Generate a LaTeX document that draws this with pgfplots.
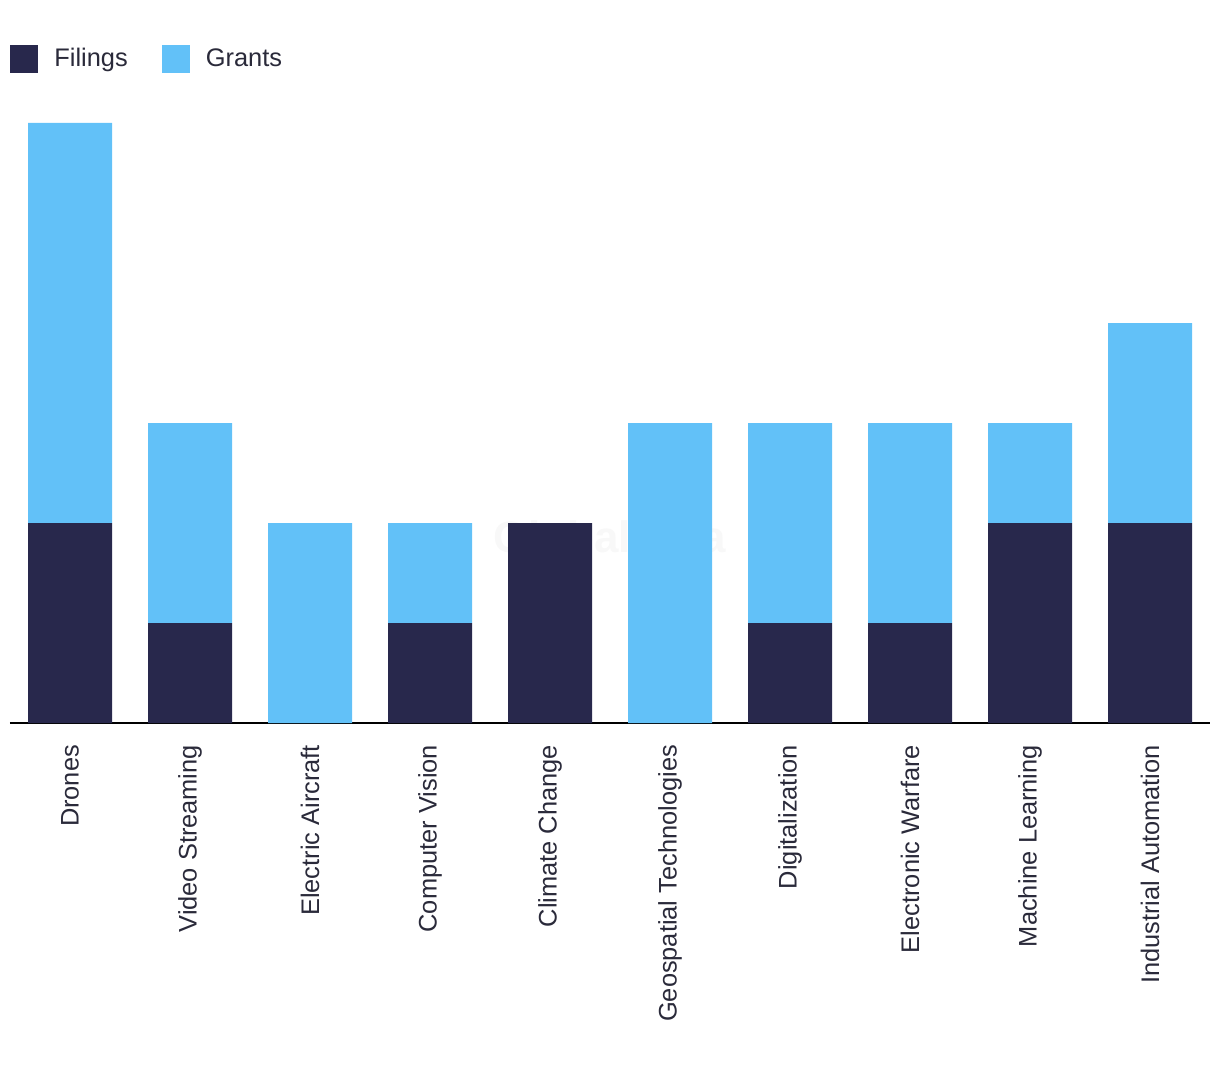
\documentclass[border=0pt]{standalone}
\usepackage{pgfplots}
\pgfplotsset{compat=1.18}
\usepackage{fontspec}
\setmainfont{Liberation Sans}
\definecolor{navy}{HTML}{28284C}
\definecolor{sky}{HTML}{62C1F8}
\definecolor{txt}{HTML}{2A2A3A}
\begin{document}
\begin{tikzpicture}
\begin{axis}[
 at={(0,0)}, anchor=south west,
 scale only axis, width=600pt, height=300pt,
 ybar stacked, bar width=42pt,
 xmin=-0.5, xmax=9.5, ymin=0, ymax=6,
 axis x line=bottom, axis y line=none,
 x axis line style={-, line width=1pt, color=black},
 xtick=data,
 xticklabels={Drones, Video Streaming, Electric Aircraft, Computer Vision, Climate Change, Geospatial Technologies, Digitalization, Electronic Warfare, Machine Learning, Industrial Automation},
 xticklabel style={rotate=90, anchor=east, xshift=-7.5pt, font=\fontsize{12.7}{15}\selectfont, text=txt},
 major tick length=0pt,
 legend style={at={(0,1.132)}, anchor=north west, draw=none, legend columns=2, font=\fontsize{12.7}{15}\selectfont, text=txt, inner sep=0pt, /tikz/every even column/.append style={column sep=15pt}},
 legend image code/.code={\fill[#1] (0pt,-7pt) rectangle (14pt,7pt); \path[draw=none,fill=none] (14pt,0pt) rectangle (20pt,0.1pt);},
]
\addplot[fill=navy, draw=none] coordinates {(0,2)(1,1)(2,0)(3,1)(4,2)(5,0)(6,1)(7,1)(8,2)(9,2)};
\addplot[fill=sky, draw=none] coordinates {(0,4)(1,2)(2,2)(3,1)(4,0)(5,3)(6,2)(7,2)(8,1)(9,2)};
\legend{Filings, Grants}
\node[font=\bfseries\fontsize{22}{26}\selectfont, text=gray, opacity=0.06] at (axis cs:4.5,1.86) {GlobalData};
\end{axis}
\pgfresetboundingbox
\useasboundingbox (-5pt,-174.5pt) rectangle (605pt,361.5pt);
\end{tikzpicture}
\end{document}
